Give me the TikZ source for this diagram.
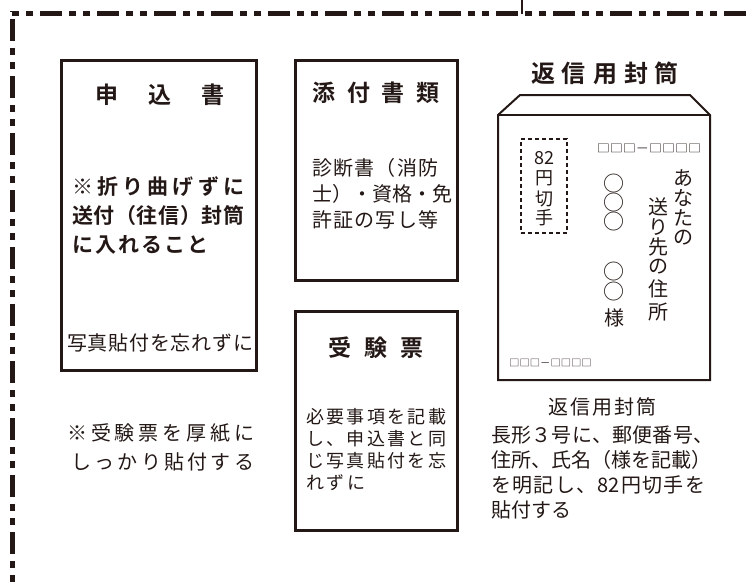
\documentclass[tikz,border=0pt]{standalone}
\usepackage{fontspec}
\setmainfont{Noto Sans CJK JP}[BoldFont={Noto Sans CJK JP Bold}]
\usepackage{graphicx}
\definecolor{ink}{HTML}{231815}
\def\sprA#1#2{#1\ifx\relax#2\else\hfil\expandafter\sprA\expandafter#2\fi}
\newcommand\spr[2]{\makebox[#1][s]{\sprA#2\relax}}
\newcommand\nn{82}
\tikzset{
  box/.style={draw=ink, line width=3pt, inner sep=0pt, fill=none},
  ttl/.style={font=\fontsize{23}{23}\selectfont\bfseries, text=ink, inner sep=0pt},
  bod/.style={font=\fontsize{20}{20}\selectfont, text=ink, inner sep=0pt},
  smb/.style={font=\fontsize{18}{18}\selectfont, text=ink, inner sep=0pt},
  vch/.style={font=\fontsize{20}{20}\selectfont, text=ink, inner sep=0pt},
  cir/.style={font=\fontsize{21}{21}\selectfont, text=ink, inner sep=0pt, text height=15pt, text depth=2pt},
  border/.style={draw=ink, line width=4.5pt},
}
\begin{document}
\begin{tikzpicture}[x=1pt,y=-1pt]
\useasboundingbox (0,0) rectangle (749,584);
% outer dash-dot-dot border
\coordinate (cb) at (12.5,600);
\coordinate (cr) at (770,13.5);
\coordinate (c1) at (10,13.5);
\coordinate (c2) at (12.5,11);
\draw[border, dash pattern=on 22pt off 7pt on 7pt off 7pt on 7pt off 7pt, dash phase=27pt] (c1) -- (cr);
\draw[border, dash pattern=on 22pt off 7pt on 7pt off 7pt on 7pt off 7pt, dash phase=49pt] (c2) -- (cb);
\coordinate (k1) at (521.5,0);
\coordinate (k2) at (521.5,14);
\draw[ink, line width=2pt] (k1) -- (k2);

% box 1
\node[box, minimum width=195pt, minimum height=310pt] (b1) at (158.5,215) {};
\node[ttl] (b1t) at (160,95) {\spr{130pt}{申込書}};
\node[bod, font=\fontsize{21}{21}\selectfont\bfseries, anchor=west] (b1a) at (72,187) {\spr{172pt}{※折り曲げずに}};
\node[bod, font=\fontsize{21}{21}\selectfont\bfseries, anchor=west] (b1b) at (72,216) {\spr{172pt}{送付（往信）封筒}};
\node[bod, font=\fontsize{21}{21}\selectfont\bfseries, anchor=west] (b1c) at (72,245) {\spr{136pt}{に入れること}};
\node[bod] (b1d) at (160,343) {\spr{186pt}{写真貼付を忘れずに}};

% box 2
\node[box, minimum width=162pt, minimum height=220pt] (b2) at (376,170) {};
\node[ttl] (b2t) at (376,93) {\spr{127pt}{添付書類}};
\node[bod, anchor=west] (b2a) at (312,168) {\spr{126pt}{診断書（消防}};
\node[bod, anchor=west] (b2b) at (312,194) {\spr{126pt}{士）・資格・免}};
\node[bod, anchor=west] (b2c) at (312,220) {\spr{126pt}{許証の写し等}};

% box 3
\node[box, minimum width=162pt, minimum height=219pt] (b3) at (376,420.5) {};
\node[ttl] (b3t) at (376,348) {\spr{96pt}{受験票}};
\node[smb, anchor=west] (b3a) at (306,417) {\spr{140pt}{必要事項を記載}};
\node[smb, anchor=west] (b3b) at (306,439) {\spr{140pt}{し、申込書と同}};
\node[smb, anchor=west] (b3c) at (306,461) {\spr{140pt}{じ写真貼付を忘}};
\node[smb, anchor=west] (b3d) at (306,483) {\spr{59pt}{れずに}};

% note under box 1
\node[bod, anchor=west] (n1) at (67,433) {\spr{187pt}{※受験票を厚紙に}};
\node[bod, anchor=west] (n2) at (71,462) {\spr{183pt}{しっかり貼付する}};

% envelope
\node[ttl, font=\fontsize{24}{24}\selectfont\bfseries] (et) at (605,73) {\spr{148pt}{返信用封筒}};
\coordinate (e1) at (498,380);
\coordinate (e2) at (498,115);
\coordinate (e3) at (520,95);
\coordinate (e4) at (690,95);
\coordinate (e5) at (710,115);
\coordinate (e6) at (710,380);
\draw[ink, line width=2pt, line join=miter] (e1) -- (e2) -- (e3) -- (e4) -- (e5) -- (e6) -- cycle;
\draw[ink, line width=2pt] (e2) -- (e5);
% stamp
\node[draw=ink, line width=1.2pt, dash pattern=on 4pt off 3pt, minimum width=46pt, minimum height=94pt, inner sep=0pt] (st) at (544,186) {};
\node[smb] (s1) at (544,158) {82};
\node[smb] (s2) at (544,178) {円};
\node[smb] (s3) at (544,199) {切};
\node[smb] (s4) at (544,218) {手};
% postcodes
\node[text=ink, inner sep=0pt, font=\fontsize{14.5}{14.5}\selectfont] (pc1) at (649,148) {\scalebox{0.9}[0.75]{□□□－□□□□}};
\node[text=ink, inner sep=0pt, font=\fontsize{12}{12}\selectfont] (pc2) at (550.5,363) {\scalebox{0.86}[0.78]{□□□－□□□□}};
% name column
\node[cir] (m1) at (614,185) {○};
\node[cir] (m2) at (614,204) {○};
\node[cir] (m3) at (614,223) {○};
\node[cir] (m4) at (614,273) {○};
\node[cir] (m5) at (614,293) {○};
\node[vch] (m6) at (614,318) {様};
% address columns
\node[vch] (a1) at (683,178) {あ};
\node[vch] (a2) at (683,198) {な};
\node[vch] (a3) at (683,218) {た};
\node[vch] (a4) at (683,238) {の};
\node[vch] (d1) at (658,207) {送};
\node[vch] (d2) at (658,227) {り};
\node[vch] (d3) at (658,247) {先};
\node[vch] (d4) at (658,267) {の};
\node[vch] (d5) at (658,289) {住};
\node[vch] (d6) at (658,312) {所};
% caption
\node[bod] (c1t) at (602,407) {\spr{108pt}{返信用封筒}};
\node[bod, anchor=west] (c1a) at (491,435) {\spr{222pt}{長形３号に、郵便番号、}};
\node[bod, anchor=west] (c1b) at (491,460) {\spr{218pt}{住所、氏名（様を記載）}};
\node[bod, anchor=west] (c1c) at (491,485) {\spr{214pt}{を明記し、\nn 円切手を}};
\node[bod, anchor=west] (c1d) at (491,510) {貼付する};
\end{tikzpicture}
\end{document}
